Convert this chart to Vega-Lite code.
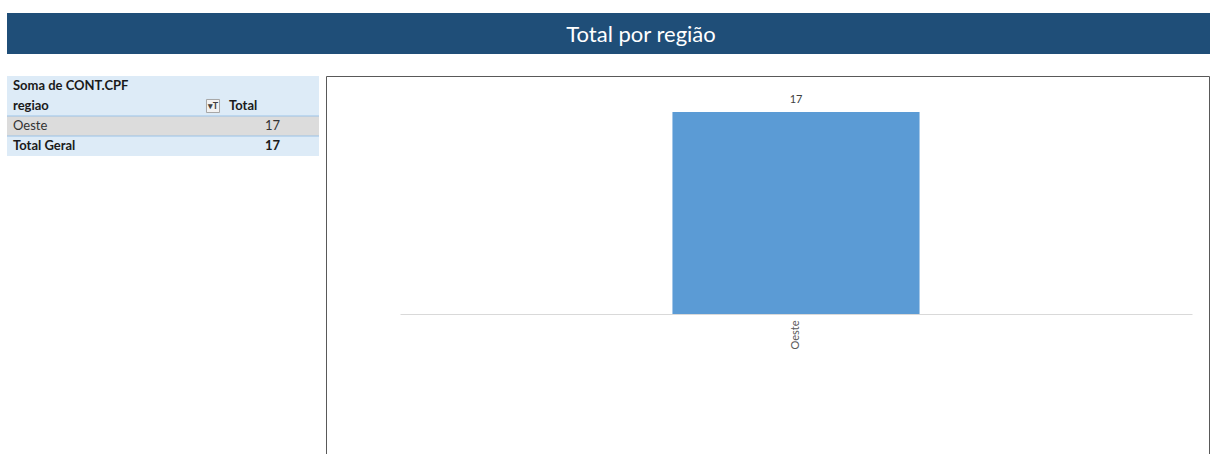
{
  "$schema": "https://vega.github.io/schema/vega-lite/v6.json",
  "background": "white",
  "padding": {"left": 6, "top": 13, "right": 0, "bottom": 0},
  "spacing": 21,
  "config": {"view": {"stroke": null}, "font": "Lato"},
  "datasets": {
    "titulo": [{"titulo": "Total por região"}],
    "tabela": [
      {"linha": 1, "tipo": "titulo", "rotulo": "Soma de CONT.CPF", "valor": ""},
      {"linha": 2, "tipo": "cabecalho", "rotulo": "regiao", "valor": "Total"},
      {"linha": 3, "tipo": "dado", "rotulo": "Oeste", "valor": "17"},
      {"linha": 4, "tipo": "total", "rotulo": "Total Geral", "valor": "17"}
    ],
    "regioes": [{"regiao": "Oeste", "total": 17}]
  },
  "vconcat": [
    {
      "width": 1204,
      "height": 41,
      "view": {"fill": "#1F4E78", "stroke": null},
      "data": {"name": "titulo"},
      "mark": {"type": "text", "color": "white", "fontSize": 22, "dx": 32, "dy": 1, "font": "Lato"},
      "encoding": {"text": {"field": "titulo", "type": "nominal"}}
    },
    {
      "spacing": 5,
      "hconcat": [
        {
          "width": 312,
          "height": 80,
          "data": {"name": "tabela"},
          "encoding": {
            "y": {"field": "linha", "type": "ordinal", "axis": null,
                  "scale": {"domain": [1, 2, 3, 4], "paddingInner": 0, "paddingOuter": 0}}
          },
          "layer": [
            {"mark": {"type": "rect", "color": "#DDEBF7"}},
            {"transform": [{"filter": "datum.tipo == 'dado'"}],
             "mark": {"type": "rect", "fill": "#DCDCDC"}},
            {"transform": [{"filter": "datum.tipo == 'dado'"}],
             "mark": {"type": "rule", "color": "#9BC2E6", "strokeWidth": 1},
             "encoding": {"y": {"field": "linha", "type": "ordinal", "bandPosition": 0}}},
            {"transform": [{"filter": "datum.tipo == 'dado'"}],
             "mark": {"type": "rule", "color": "#9BC2E6", "strokeWidth": 1},
             "encoding": {"y": {"field": "linha", "type": "ordinal", "bandPosition": 1}}},
            {"transform": [{"filter": "datum.tipo != 'dado'"}],
             "mark": {"type": "text", "align": "left", "dx": -150, "fontWeight": "bold", "fontSize": 13, "color": "#1A1A1A"},
             "encoding": {"text": {"field": "rotulo", "type": "nominal"}}},
            {"transform": [{"filter": "datum.tipo == 'dado'"}],
             "mark": {"type": "text", "align": "left", "dx": -150, "fontSize": 13, "color": "#333333"},
             "encoding": {"text": {"field": "rotulo", "type": "nominal"}}},
            {"transform": [{"filter": "datum.tipo == 'cabecalho'"}],
             "mark": {"type": "text", "align": "left", "dx": 66, "fontWeight": "bold", "fontSize": 13, "color": "#1A1A1A"},
             "encoding": {"text": {"field": "valor", "type": "nominal"}}},
            {"transform": [{"filter": "datum.tipo == 'dado'"}],
             "mark": {"type": "text", "align": "right", "dx": 117, "fontSize": 13, "color": "#333333"},
             "encoding": {"text": {"field": "valor", "type": "nominal"}}},
            {"transform": [{"filter": "datum.tipo == 'total'"}],
             "mark": {"type": "text", "align": "right", "dx": 117, "fontWeight": "bold", "fontSize": 13, "color": "#1A1A1A"},
             "encoding": {"text": {"field": "valor", "type": "nominal"}}},
            {"transform": [{"filter": "datum.tipo == 'cabecalho'"}],
             "mark": {"type": "point", "shape": "square", "size": 170, "filled": true, "fill": "#F2F2F2", "stroke": "#A6A6A6", "strokeWidth": 1, "opacity": 1},
             "encoding": {"xOffset": {"value": 50}}},
            {"transform": [{"filter": "datum.tipo == 'cabecalho'"}],
             "mark": {"type": "text", "text": "▾T", "align": "center", "dx": 50, "fontSize": 9, "fontWeight": "bold", "color": "#404040"}}
          ]
        },
        {
          "width": 883,
          "height": 378,
          "view": {"stroke": "#595959", "strokeWidth": 1},
          "data": {"name": "regioes"},
          "encoding": {
            "x": {"field": "regiao", "type": "nominal",
                  "scale": {"range": [74, 866], "paddingInner": 0, "paddingOuter": 0},
                  "axis": {"title": null, "orient": "bottom", "offset": -140, "ticks": false,
                           "domainColor": "#D9D9D9", "domainWidth": 1, "labelAngle": -90,
                           "labelColor": "#595959", "labelFontSize": 11, "labelPadding": 6, "labelFont": "Lato"}},
            "y": {"field": "total", "type": "quantitative", "axis": null,
                  "scale": {"domain": [0, 17], "range": [238, 36], "nice": false, "zero": true}}
          },
          "layer": [
            {"mark": {"type": "bar", "color": "#5B9BD5", "width": {"band": 0.312}}},
            {"mark": {"type": "text", "baseline": "bottom", "dy": -7, "fontSize": 11, "color": "#404040"},
             "encoding": {"text": {"field": "total", "type": "quantitative"}}}
          ]
        }
      ]
    }
  ]
}
